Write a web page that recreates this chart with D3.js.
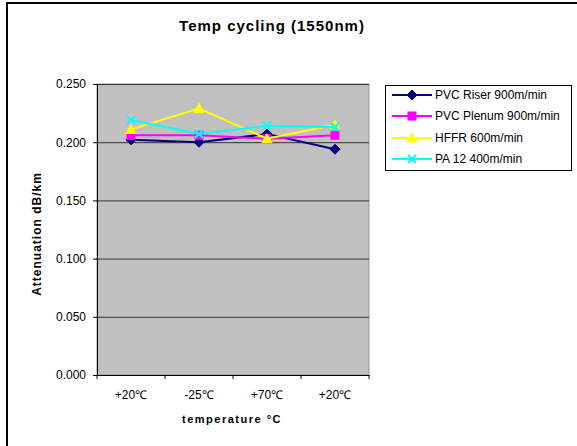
<!DOCTYPE html>
<html>
<head>
<meta charset="utf-8">
<script src="https://cdn.jsdelivr.net/npm/d3@7"></script>
<style>
  body { margin: 0; background: #fff; }
  text { font-family: Arial, "Liberation Sans", sans-serif; fill: #000; }
  .grid line { stroke: #333; stroke-width: 1; }
  .axis path, .axis line { stroke: #000; }
</style>
</head>
<body>
<svg id="chart" width="577" height="446"></svg>
<script>
// ---- data ----
var categories = ["+20\u2103", "-25\u2103", "+70\u2103", "+20\u2103 "];
var seriesNames = ["PVC Riser 900m/min", "PVC Plenum 900m/min", "HFFR 600m/min", "PA 12 400m/min"];
var pvcRiser  = [0.202, 0.200, 0.207, 0.194];
var pvcPlenum = [0.206, 0.206, 0.203, 0.206];
var hffr      = [0.211, 0.229, 0.203, 0.215];
var pa12      = [0.219, 0.207, 0.214, 0.213];
var yTicks = [0, 0.05, 0.1, 0.15, 0.2, 0.25];

var seriesValues = [pvcRiser, pvcPlenum, hffr, pa12];
var colors = ["#000080", "#FF00FF", "#FFFF00", "#00FFFF"];
var markers = ["diamond", "square", "triangle", "cross"];

var svg = d3.select("#chart");
var plot = {left: 97, top: 84, right: 369, bottom: 375};

// outer chart border (right/bottom off canvas)
svg.append("rect")
  .attr("x", 7).attr("y", 3)
  .attr("width", 600).attr("height", 460)
  .attr("fill", "#fff").attr("stroke", "#000").attr("stroke-width", 2);

var x = d3.scaleBand()
  .domain(categories)
  .range([plot.left, plot.right]);

var y = d3.scaleLinear()
  .domain([0, 0.25])
  .range([plot.bottom, plot.top]);

// plot background
svg.append("rect")
  .attr("x", plot.left).attr("y", plot.top)
  .attr("width", plot.right - plot.left).attr("height", plot.bottom - plot.top)
  .attr("fill", "#C0C0C0").attr("stroke", "#999").attr("stroke-width", 1);

// gridlines
svg.append("g")
  .attr("class", "grid")
  .attr("transform", "translate(" + plot.left + ",0)")
  .call(d3.axisLeft(y).tickValues(yTicks).tickSize(-(plot.right - plot.left)).tickFormat(""))
  .call(function(g){ g.select(".domain").remove(); });

// y axis
svg.append("g")
  .attr("class", "axis")
  .attr("transform", "translate(" + plot.left + ",0)")
  .call(d3.axisLeft(y).tickValues(yTicks).tickSize(4).tickSizeOuter(0).tickPadding(7).tickFormat(d3.format(".3f")))
  .call(function(g){
    g.selectAll("text").style("font-size", "12px").style("font-family", "Arial, 'Liberation Sans', sans-serif");
  });

// x axis
var xAxisG = svg.append("g")
  .attr("class", "axis")
  .attr("transform", "translate(0," + plot.bottom + ")")
  .call(d3.axisBottom(x).tickSize(0).tickPadding(15))
  .call(function(g){
    g.selectAll("text").style("font-size", "12px").style("font-family", "Arial, 'Liberation Sans', sans-serif");
  });
// tick marks between categories
var bounds = categories.map(function(c){ return x(c); }).concat([plot.right]);
xAxisG.selectAll(".sep")
  .data(bounds)
  .enter().append("line")
  .attr("x1", function(d){ return d; }).attr("x2", function(d){ return d; })
  .attr("y1", 0).attr("y2", 4)
  .attr("stroke", "#000");

// title
svg.append("text")
  .attr("x", 272).attr("y", 31)
  .attr("text-anchor", "middle")
  .style("font-size", "15px").style("font-weight", "bold").style("letter-spacing", "1px")
  .text("Temp cycling (1550nm)");

// axis titles
svg.append("text")
  .attr("transform", "translate(41,234) rotate(-90)")
  .attr("text-anchor", "middle")
  .style("font-size", "12px").style("font-weight", "900").style("letter-spacing", "1px")
  .text("Attenuation dB/km");

svg.append("text")
  .attr("x", 232).attr("y", 423)
  .attr("text-anchor", "middle")
  .style("font-size", "11px").style("font-weight", "bold").style("letter-spacing", "1.5px")
  .text("temperature \u00B0C");

function drawMarker(g, type, color, cx, cy) {
  if (type === "diamond") {
    g.append("path").attr("d", "M" + cx + "," + (cy - 5) + "L" + (cx + 5) + "," + cy + "L" + cx + "," + (cy + 5) + "L" + (cx - 5) + "," + cy + "Z")
      .attr("fill", color).attr("stroke", color);
  } else if (type === "square") {
    g.append("rect").attr("x", cx - 4).attr("y", cy - 4).attr("width", 8).attr("height", 8)
      .attr("fill", color).attr("stroke", color);
  } else if (type === "triangle") {
    g.append("path").attr("d", "M" + cx + "," + (cy - 5) + "L" + (cx + 5) + "," + (cy + 4) + "L" + (cx - 5) + "," + (cy + 4) + "Z")
      .attr("fill", color).attr("stroke", color);
  } else {
    g.append("path").attr("d", "M" + (cx - 4) + "," + (cy - 4) + "L" + (cx + 4) + "," + (cy + 4) + "M" + (cx + 4) + "," + (cy - 4) + "L" + (cx - 4) + "," + (cy + 4))
      .attr("fill", "none").attr("stroke", color).attr("stroke-width", 2);
  }
}

// series
var line = d3.line()
  .x(function(d, i){ return x(categories[i]) + x.bandwidth() / 2; })
  .y(function(d){ return y(d); });

var seriesG = svg.append("g").attr("class", "series");
seriesValues.forEach(function(vals, s) {
  var g = seriesG.append("g");
  g.append("path")
    .datum(vals)
    .attr("d", line)
    .attr("fill", "none")
    .attr("stroke", colors[s])
    .attr("stroke-width", 2);
  vals.forEach(function(v, i) {
    drawMarker(g, markers[s], colors[s], x(categories[i]) + x.bandwidth() / 2, y(v));
  });
});

// legend
var legend = svg.append("g").attr("class", "legend");
legend.append("rect")
  .attr("x", 385.5).attr("y", 85.5).attr("width", 186).attr("height", 85)
  .attr("fill", "#fff").attr("stroke", "#000").attr("stroke-width", 1);
var rowY = [95, 116, 138, 159];
seriesNames.forEach(function(name, s) {
  var ly = rowY[s];
  legend.append("line")
    .attr("x1", 392).attr("x2", 432).attr("y1", ly).attr("y2", ly)
    .attr("stroke", colors[s]).attr("stroke-width", 2);
  drawMarker(legend, markers[s], colors[s], 412, ly);
  legend.append("text")
    .attr("x", 435).attr("y", ly + 4)
    .style("font-size", "12px")
    .text(name);
});
</script>
</body>
</html>
